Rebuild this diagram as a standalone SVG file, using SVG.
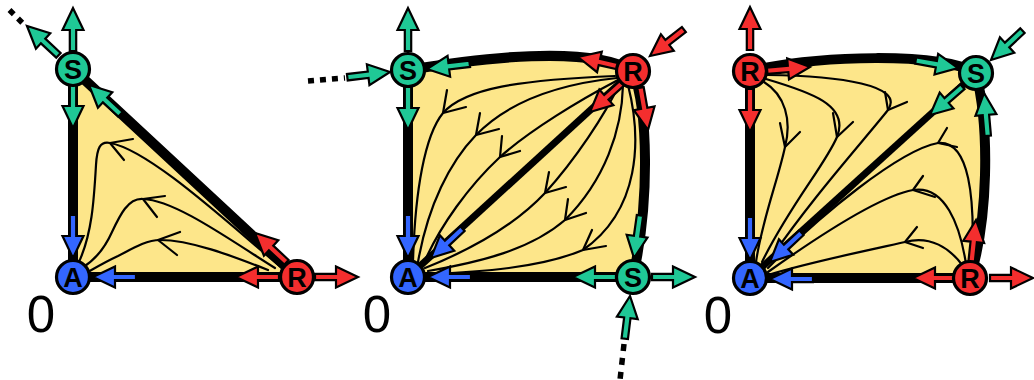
<svg xmlns="http://www.w3.org/2000/svg" width="1034" height="380" viewBox="0 0 1034 380">
<style>
.reg{fill:#fde68a;stroke:#000;stroke-width:10;stroke-linejoin:round}
.diag{stroke:#000;stroke-width:7;fill:none}
.tr{fill:none;stroke:#000;stroke-width:2.2;stroke-linecap:round;stroke-linejoin:round}
.dot{stroke:#000;stroke-width:5.5;fill:none}
.g{fill:#1fc896}
.r{fill:#f42e2e}
.b{fill:#3366ff}
.nd{stroke:#000;stroke-width:3.2}
.lt{font-family:"Liberation Sans",Arial,sans-serif;font-weight:bold;font-size:27px;text-anchor:middle;fill:#000}
.zero{font-family:"Liberation Sans",Arial,sans-serif;font-size:51px;text-anchor:middle;fill:#000}
</style>
<defs>
<path id="arr" d="M0,0 L-22,-10.5 L-22,-3.2 L-43,-3.2 L-43,3.2 L-22,3.2 L-22,10.5 Z" stroke="#000" stroke-width="2.2" stroke-linejoin="miter"/>
</defs>

<g id="connectors">
<!-- panel 1 -->
<path class="reg" d="M73,69 L73,277 L297,277 Z"/>
<path class="tr" d="M282,268 C230,225 150,150 110,143 C100,141 97,148 96,165 C94,200 92,235 78,264"/>
<polyline class="tr" points="133,139 110,143 124,160"/>
<path class="tr" d="M275,268 C230,240 175,200 143,199 C128,198 120,215 112,232 C104,250 95,260 82,268"/>
<polyline class="tr" points="165,196 143,199 157,217"/>
<path class="tr" d="M268,270 C230,255 190,240 160,240 C145,240 130,250 118,256 C105,262 95,268 88,272"/>
<polyline class="tr" points="180,232 158,240 177,255"/>
<line class="dot" x1="9.5" y1="10" x2="24" y2="24.5" stroke-dasharray="6 6"/>

<!-- panel 2 -->
<path class="reg" d="M408,70 L408,277 L633,277 C650,200 648,110 633,71 C590,45 480,58 408,70 Z"/>
<path class="tr" d="M615,76 C520,80 465,88 443,113 C425,135 415,190 413,262"/>
<polyline class="tr" points="447,90 443,113 466,107"/>
<path class="tr" d="M617,78 C560,84 510,100 476,135 C450,162 428,205 418,262"/>
<polyline class="tr" points="480,113 476,135 499,129"/>
<path class="tr" d="M618,80 C580,100 530,130 500,157 C470,185 440,225 423,265"/>
<polyline class="tr" points="502,136 500,157 520,151"/>
<path class="tr" d="M620,83 C605,115 575,160 545,193 C515,225 470,250 425,268"/>
<polyline class="tr" points="549,172 545,193 566,187"/>
<path class="tr" d="M623,85 C622,130 605,180 565,220 C530,250 480,262 428,271"/>
<polyline class="tr" points="568,199 565,220 586,213"/>
<path class="tr" d="M628,85 C642,140 640,210 583,250 C540,268 480,272 428,274"/>
<polyline class="tr" points="592,230 583,250 606,246"/>
<line class="diag" x1="408" y1="277" x2="633" y2="71"/>
<line class="dot" x1="308" y1="81" x2="345" y2="78" stroke-dasharray="6 6"/>
<line class="dot" x1="624" y1="344" x2="620" y2="380" stroke-dasharray="7 7"/>

<!-- panel 3 -->
<path class="reg" d="M750,71 L750,278 L970,278 C988,220 990,130 976,73 C940,52 820,55 750,71 Z"/>
<path class="tr" d="M764,82 C785,95 792,120 785,147 C778,180 762,220 756,262"/>
<polyline class="tr" points="780,123 785,147 800,132"/>
<path class="tr" d="M766,79 C810,92 850,105 837,137 C825,165 790,205 762,262"/>
<polyline class="tr" points="833,113 837,137 853,122"/>
<path class="tr" d="M767,75 C840,76 905,85 888,110 C860,145 810,200 766,265"/>
<polyline class="tr" points="885,92 888,110 907,102"/>
<path class="tr" d="M972,262 C975,200 970,140 938,143 C900,150 820,215 768,268"/>
<polyline class="tr" points="947,128 938,143 957,147"/>
<path class="tr" d="M966,264 C960,225 945,185 913,190 C880,196 820,235 768,272"/>
<polyline class="tr" points="923,176 913,190 935,197"/>
<path class="tr" d="M963,266 C950,248 930,235 905,242 C870,250 810,262 768,275"/>
<polyline class="tr" points="917,227 905,242 923,248"/>
<line class="diag" x1="750" y1="278" x2="976" y2="73"/>

<!-- arrows panel 1 -->
<use href="#arr" class="g" transform="translate(73,8) rotate(-90)"/>
<use href="#arr" class="g" transform="translate(27,26) rotate(-137)"/>
<use href="#arr" class="g" transform="translate(73,128) rotate(90)"/>
<use href="#arr" class="g" transform="translate(89,85) rotate(-137)"/>
<use href="#arr" class="b" transform="translate(73,258) rotate(90)"/>
<use href="#arr" class="b" transform="translate(93,277) rotate(180)"/>
<use href="#arr" class="r" transform="translate(236,277) rotate(180)"/>
<use href="#arr" class="r" transform="translate(358,277)"/>
<use href="#arr" class="r" transform="translate(255,233) rotate(-137)"/>

<!-- arrows panel 2 -->
<use href="#arr" class="g" transform="translate(408,8) rotate(-90)"/>
<use href="#arr" class="g" transform="translate(408,130) rotate(90)"/>
<use href="#arr" class="g" transform="translate(390,72) rotate(-7)"/>
<use href="#arr" class="g" transform="translate(427,69) rotate(173)"/>
<use href="#arr" class="b" transform="translate(408,258) rotate(90)"/>
<use href="#arr" class="b" transform="translate(428,277) rotate(180)"/>
<use href="#arr" class="b" transform="translate(431,258) rotate(137)"/>
<use href="#arr" class="r" transform="translate(578,57) rotate(-167)"/>
<use href="#arr" class="r" transform="translate(650,56) rotate(142)"/>
<use href="#arr" class="r" transform="translate(590,112) rotate(138)"/>
<use href="#arr" class="r" transform="translate(648,130) rotate(80)"/>
<use href="#arr" class="g" transform="translate(634,258) rotate(98)"/>
<use href="#arr" class="g" transform="translate(573,277) rotate(180)"/>
<use href="#arr" class="g" transform="translate(695,277)"/>
<use href="#arr" class="g" transform="translate(630,296) rotate(-83)"/>

<!-- arrows panel 3 -->
<use href="#arr" class="r" transform="translate(750,7) rotate(-90)"/>
<use href="#arr" class="r" transform="translate(810,67) rotate(-5)"/>
<use href="#arr" class="r" transform="translate(750,132) rotate(90)"/>
<use href="#arr" class="g" transform="translate(958,68) rotate(10)"/>
<use href="#arr" class="g" transform="translate(991,60) rotate(137)"/>
<use href="#arr" class="g" transform="translate(930,115) rotate(139)"/>
<use href="#arr" class="g" transform="translate(984,93) rotate(-95)"/>
<use href="#arr" class="b" transform="translate(750,260) rotate(90)"/>
<use href="#arr" class="b" transform="translate(770,279) rotate(180)"/>
<use href="#arr" class="b" transform="translate(770,262) rotate(137)"/>
<use href="#arr" class="r" transform="translate(913,278) rotate(180)"/>
<use href="#arr" class="r" transform="translate(1033,278)"/>
<use href="#arr" class="r" transform="translate(976,220) rotate(-84)"/>
</g>

<!-- nodes panel 1 -->
<g id="p1-S"><circle class="nd g" cx="73" cy="69" r="16.5"/><text class="lt" x="73" y="78.5">S</text></g>
<g id="p1-A"><circle class="nd b" cx="73" cy="277" r="16.5"/><text class="lt" x="73" y="286.5">A</text></g>
<g id="p1-R"><circle class="nd r" cx="297" cy="277" r="16.5"/><text class="lt" x="297" y="286.5">R</text></g>
<!-- nodes panel 2 -->
<g id="p2-S1"><circle class="nd g" cx="408" cy="70" r="16.5"/><text class="lt" x="408" y="79.5">S</text></g>
<g id="p2-A"><circle class="nd b" cx="408" cy="277" r="16.5"/><text class="lt" x="408" y="286.5">A</text></g>
<g id="p2-R"><circle class="nd r" cx="633" cy="71" r="16.5"/><text class="lt" x="633" y="80.5">R</text></g>
<g id="p2-S2"><circle class="nd g" cx="633" cy="277" r="16.5"/><text class="lt" x="633" y="286.5">S</text></g>
<!-- nodes panel 3 -->
<g id="p3-R1"><circle class="nd r" cx="750" cy="71" r="16.5"/><text class="lt" x="750" y="80.5">R</text></g>
<g id="p3-A"><circle class="nd b" cx="750" cy="278" r="16.5"/><text class="lt" x="750" y="287.5">A</text></g>
<g id="p3-S"><circle class="nd g" cx="976" cy="73" r="16.5"/><text class="lt" x="976" y="82.5">S</text></g>
<g id="p3-R2"><circle class="nd r" cx="970" cy="278" r="16.5"/><text class="lt" x="970" y="287.5">R</text></g>

<g id="labels">
<text class="zero" x="41" y="332">0</text>
<text class="zero" x="377" y="332">0</text>
<text class="zero" x="718" y="333">0</text>
</g>
</svg>
